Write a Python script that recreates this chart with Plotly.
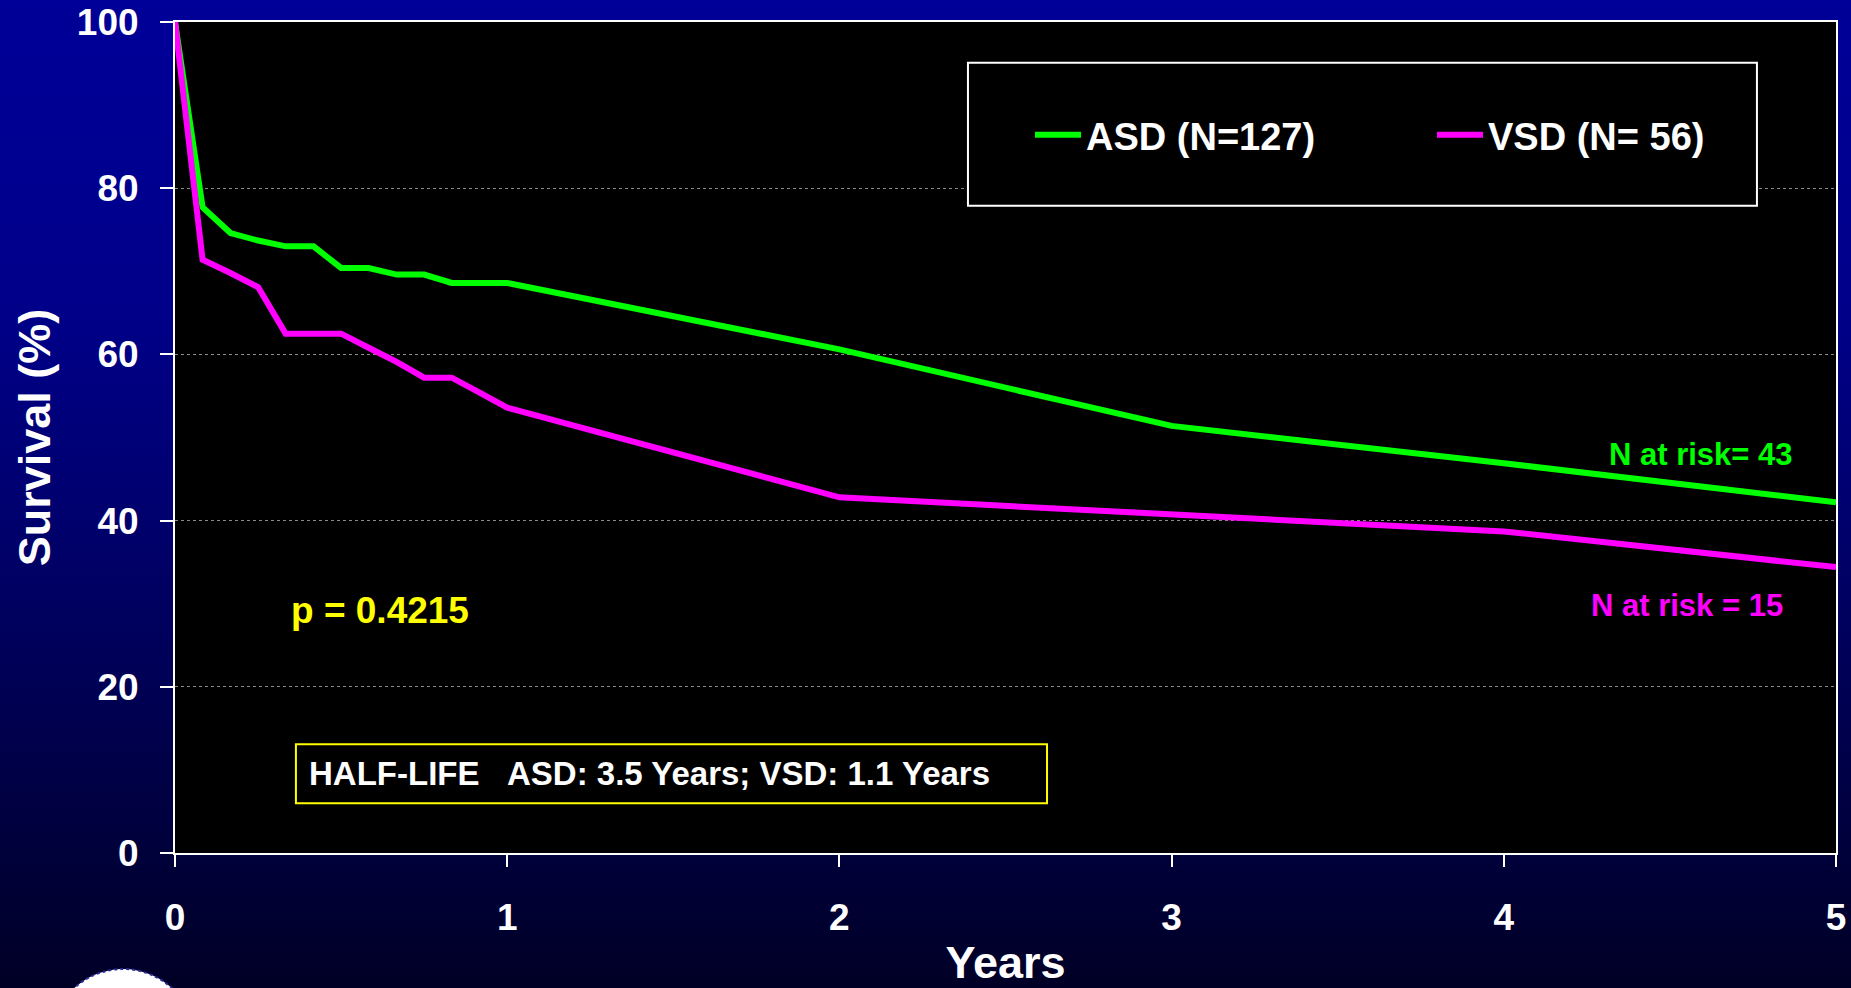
import plotly.graph_objects as go

# Follow-up time (years) and survival (%) for each group
years = [0, 0.083, 0.167, 0.25, 0.333, 0.417, 0.5, 0.583, 0.667, 0.75, 0.833, 0.917, 1, 2, 3, 4, 5]
asd_survival = [100, 77.7, 74.6, 73.7, 73.0, 73.0, 70.4, 70.4, 69.6, 69.6, 68.6, 68.6, 68.6, 60.6, 51.4, 46.9, 42.2]
vsd_survival = [100, 71.4, 69.8, 68.1, 62.5, 62.5, 62.5, 60.8, 59.1, 57.2, 57.2, 55.4, 53.6, 42.8, 40.8, 38.7, 34.4]

series_names = ["ASD (N=127)", "VSD (N= 56)"]
series_colors = ["#00FF00", "#FF00FF"]

x_ticks = [0, 1, 2, 3, 4, 5]
y_ticks = [0, 20, 40, 60, 80, 100]

FONT = "Liberation Sans, Arial, sans-serif"
W, H = 1851, 988
M_L, M_R, M_T, M_B = 175, 15, 22, 135

fig = go.Figure()
for ys, name, col in zip([asd_survival, vsd_survival], series_names, series_colors):
    fig.add_trace(go.Scatter(
        x=years, y=ys, mode="lines", name=name,
        line=dict(color=col, width=6), cliponaxis=False,
    ))

# Vertical blue gradient behind the whole slide
shapes = []
stops = [(0, 152), (300, 138), (500, 112), (700, 82), (988, 38)]
def blue_at(py):
    for (a, ca), (b, cb) in zip(stops[:-1], stops[1:]):
        if a <= py <= b:
            return ca + (cb - ca) * (py - a) / (b - a)
    return stops[-1][1]

pw, ph = W - M_L - M_R, H - M_T - M_B
band = 8
for top in range(0, H, band):
    bot = min(top + band, H)
    b = int(round(blue_at((top + bot) / 2)))
    shapes.append(dict(
        type="rect", xref="paper", yref="paper", layer="below",
        x0=(0 - M_L) / pw, x1=(W - M_L) / pw,
        y0=(H - M_B - bot) / ph - 0.0005, y1=(H - M_B - top) / ph + 0.0005,
        fillcolor=f"rgb(0,0,{b})", line=dict(width=0),
    ))
# black plot area
shapes.append(dict(type="rect", xref="paper", yref="paper", layer="below",
                   x0=0, x1=1, y0=0, y1=1, fillcolor="black", line=dict(width=0)))
# seal, mostly below the slide edge
cx, cy, r = 123, 1041, 72
shapes.append(dict(type="circle", xref="paper", yref="paper", layer="above",
                   x0=(cx - r - M_L) / pw, x1=(cx + r - M_L) / pw,
                   y0=(H - M_B - (cy + r)) / ph, y1=(H - M_B - (cy - r)) / ph,
                   fillcolor="white", line=dict(color="#2a2a9a", width=2, dash="dot")))
# legend frame
shapes.append(dict(type="rect", xref="x", yref="y", layer="above",
                   x0=2.387, x1=4.762, y0=77.9, y1=95.1,
                   fillcolor="black", line=dict(color="white", width=2)))
# half-life box
shapes.append(dict(type="rect", xref="x", yref="y", layer="above",
                   x0=0.364, x1=2.625, y0=6.0, y1=13.1,
                   fillcolor="rgba(0,0,0,0)", line=dict(color="#FFFF00", width=2)))

annotations = [
    dict(x=4.594, y=47.9, xref="x", yref="y", text="N at risk= 43", showarrow=False,
         font=dict(family=FONT, size=31, color="#00FF00", weight="bold")),
    dict(x=4.552, y=29.8, xref="x", yref="y", text="N at risk = 15", showarrow=False,
         font=dict(family=FONT, size=31, color="#FF00FF", weight="bold")),
    dict(x=0.616, y=29.2, xref="x", yref="y", text="p = 0.4215", showarrow=False,
         font=dict(family=FONT, size=37, color="#FFFF00", weight="bold")),
    dict(x=0.397, y=9.57, xref="x", yref="y", xanchor="left",
         text="HALF-LIFE\u00a0\u00a0\u00a0ASD: 3.5 Years; VSD: 1.1 Years", showarrow=False,
         font=dict(family=FONT, size=33, color="white", weight="bold")),
]

fig.update_layout(
    width=W, height=H,
    margin=dict(l=M_L, r=M_R, t=M_T, b=M_B, autoexpand=False),
    paper_bgcolor="rgb(0,0,38)", plot_bgcolor="black",
    font=dict(family=FONT, color="white", weight="bold"),
    shapes=shapes, annotations=annotations,
    showlegend=True,
    legend=dict(orientation="h", x=(1030 - M_L) / pw, y=(H - M_B - 135) / ph,
                xanchor="left", yanchor="middle", bgcolor="rgba(0,0,0,0)",
                borderwidth=0, itemwidth=46, entrywidth=341, entrywidthmode="pixels",
                font=dict(family=FONT, size=38, color="white", weight="bold")),
    xaxis=dict(range=[0, 5], tickvals=x_ticks, showgrid=False, zeroline=False,
               showline=True, linecolor="white", linewidth=2, mirror=True,
               ticks="outside", ticklen=12, tickwidth=2, tickcolor="white",
               ticklabelstandoff=19, automargin=False,
               tickfont=dict(family=FONT, size=37, color="white", weight="bold"),
               title=dict(text="Years", standoff=35,
                          font=dict(family=FONT, size=45, color="white", weight="bold"))),
    yaxis=dict(range=[0, 100], tickvals=y_ticks, showgrid=True, gridcolor="#8a8a8a",
               gridwidth=1, griddash="dot", zeroline=False,
               showline=True, linecolor="white", linewidth=2, mirror=True,
               ticks="outside", ticklen=13, tickwidth=2, tickcolor="white",
               ticklabelstandoff=14, automargin=False,
               tickfont=dict(family=FONT, size=37, color="white", weight="bold"),
               title=dict(text="Survival (%)", standoff=12,
                          font=dict(family=FONT, size=45, color="white", weight="bold"))),
)

fig.write_html("out.html")
